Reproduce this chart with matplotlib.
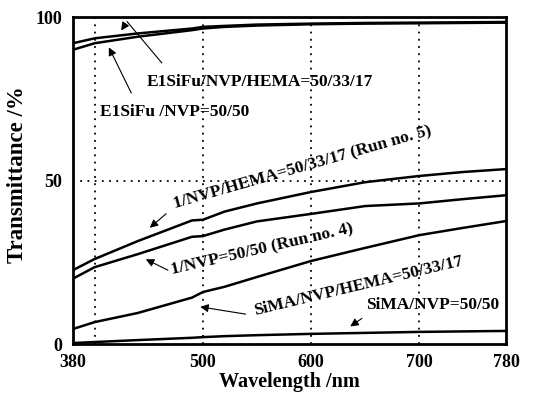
import numpy as np
import matplotlib.pyplot as plt

plt.rcParams['font.family'] = ['Liberation Serif', 'DejaVu Serif']
plt.rcParams['font.weight'] = 'bold'

# wavelength grid (nm)
wl = [380, 400, 440, 490, 500, 520, 550, 600, 650, 700, 740, 780]

# transmittance (%)
e1_hema = [92.0, 93.5, 95.0, 96.5, 97.0, 97.3, 97.7, 98.0, 98.2, 98.3, 98.4, 98.5]
e1_nvp = [90.0, 92.0, 94.0, 96.0, 96.5, 97.0, 97.4, 97.8, 98.0, 98.1, 98.2, 98.3]
run5 = [22.6, 26.0, 31.5, 37.8, 38.0, 40.5, 43.0, 46.5, 49.5, 51.4, 52.6, 53.5]
run4 = [20.0, 23.5, 27.5, 32.8, 33.0, 35.0, 37.5, 39.8, 42.2, 43.0, 44.3, 45.5]
sima_hema = [4.6, 6.7, 9.5, 14.2, 15.9, 17.5, 20.5, 25.4, 29.4, 33.3, 35.5, 37.6]
sima_nvp = [0.3, 0.6, 1.2, 1.9, 2.1, 2.4, 2.7, 3.1, 3.4, 3.7, 3.85, 4.0]

fig = plt.figure(figsize=(5.46, 3.97), dpi=100)
ax = fig.add_axes([0.1337, 0.1335, 0.793, 0.8235])

for y in [e1_hema, e1_nvp, run5, run4, sima_hema, sima_nvp]:
    ax.plot(wl, y, color='black', lw=1.8)

ax.set_xlim(380, 780)
ax.set_ylim(0, 100)
ax.set_xticks([380, 500, 600, 700, 780])
ax.set_yticks([0, 50, 100])
ax.tick_params(length=0, labelsize=13)
ax.tick_params(axis='x', pad=7)
ax.tick_params(axis='y', pad=8)
for lab in ax.get_xticklabels() + ax.get_yticklabels():
    lab.set_fontweight('bold')

# dotted grid
for gx in [400, 500, 600, 700]:
    ax.axvline(gx, color='black', lw=1.3, ls=(0, (1, 3)))
ax.axhline(50, color='black', lw=1.3, ls=(0, (1, 3)))

for s in ax.spines.values():
    s.set_linewidth(2)

ax.set_xlabel('Wavelength /nm', fontsize=14.5, fontweight='bold', labelpad=1)
ax.set_ylabel('Transmittance /%', fontsize=16.5, fontweight='bold')
ax.yaxis.set_label_coords(-0.105, 0.517)

ap = dict(arrowstyle='-|>', color='black', lw=0.8, mutation_scale=12)
fs = 12.5

# E1SiFu/NVP/HEMA label with bent leader
ax.text(553, 80, 'E1SiFu/NVP/HEMA=50/33/17', fontsize=fs, ha='center', va='center')
ax.plot([462, 430], [86, 98.6], color='black', lw=0.8)
ax.annotate('', xy=(423, 95.2), xytext=(430, 98.6), arrowprops=ap)

ax.text(474, 71, 'E1SiFu /NVP=50/50', fontsize=fs, ha='center', va='center')
ax.annotate('', xy=(412, 91.5), xytext=(435, 76), arrowprops=ap)

ax.text(592, 53.8, '1/NVP/HEMA=50/33/17 (Run no. 5)', fontsize=fs,
        ha='center', va='center', rotation=16)
ax.annotate('', xy=(449, 35), xytext=(468, 40.4), arrowprops=ap)

ax.text(555, 29, '1/NVP=50/50 (Run no. 4)', fontsize=fs,
        ha='center', va='center', rotation=13)
ax.annotate('', xy=(445, 26.3), xytext=(470, 22.2), arrowprops=ap)

ax.text(644, 17.8, 'SiMA/NVP/HEMA=50/33/17', fontsize=fs,
        ha='center', va='center', rotation=13.5)
ax.annotate('', xy=(495, 11.5), xytext=(542, 9), arrowprops=ap)

ax.text(712, 11.9, 'SiMA/NVP=50/50', fontsize=fs, ha='center', va='center')
ax.annotate('', xy=(634, 4.9), xytext=(649, 8.3), arrowprops=ap)

fig.savefig('out.png', dpi=100)
